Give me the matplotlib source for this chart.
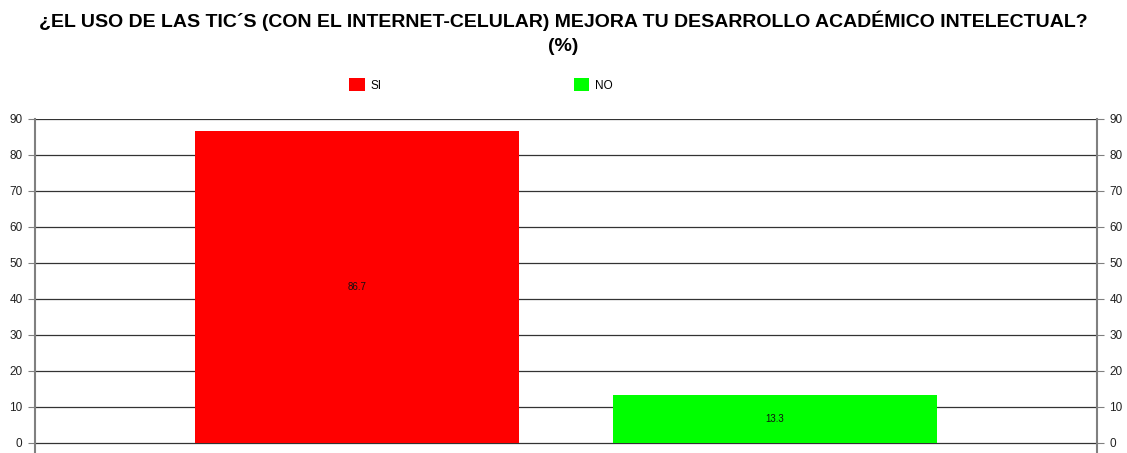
import matplotlib.pyplot as plt
from matplotlib.patches import Patch

categories = ['SI', 'NO']
values = [86.7, 13.3]
colors = ['#ff0000', '#00ff00']
yticks = [0, 10, 20, 30, 40, 50, 60, 70, 80, 90]

plt.rcParams['font.family'] = ['Liberation Sans', 'DejaVu Sans']

fig = plt.figure(figsize=(11.27, 4.53), dpi=100)
# axes: x 35..1097 px, y 0 at 443 px, 90 at 119 px, bottom at 453
ax = fig.add_axes([35 / 1127, 0, 1062 / 1127, (453 - 119) / 453])
x = range(len(categories))
bars = ax.bar(x, values, width=0.775, color=colors, zorder=3)
for b, v in zip(bars, values):
    ax.text(b.get_x() + b.get_width() / 2, v / 2, f'{v}', ha='center', va='center',
            fontsize=7, color='#111111', zorder=4)

ax.set_xlim(-0.77, 1.77)
ax.set_ylim(-2.8, 90)
ax.set_yticks(yticks)
ax.set_xticks([])
ax.grid(axis='y', color='#333333', linewidth=0.9, zorder=0)
for s in ['top', 'bottom']:
    ax.spines[s].set_visible(False)
for s in ['left', 'right']:
    ax.spines[s].set_color('#808080')
    ax.spines[s].set_linewidth(1.5)
ax.tick_params(axis='y', which='both', left=True, right=True, labelleft=True, labelright=True,
               length=5, color='#808080', labelsize=8.5, labelcolor='#222222', pad=4)

fig.text(0.5, 0.976, '¿EL USO DE LAS TIC´S (CON EL INTERNET-CELULAR) MEJORA TU DESARROLLO ACADÉMICO INTELECTUAL?\n(%)',
         ha='center', va='top', fontsize=14, fontweight='bold', linespacing=1.5)

handles = [Patch(facecolor=c, edgecolor='none') for c in colors]
fig.legend(handles, categories, loc='center', bbox_to_anchor=(481 / 1127, 1 - 85 / 453), ncol=2,
           frameon=False, fontsize=8.5, handlelength=1.3, handleheight=1.3, handletextpad=0.5,
           columnspacing=16.3)

fig.savefig('out.png', dpi=100)
